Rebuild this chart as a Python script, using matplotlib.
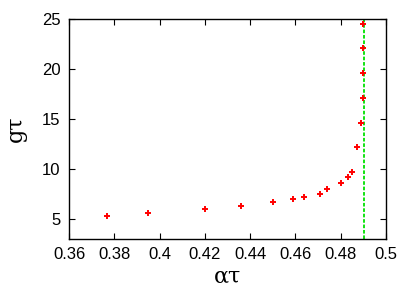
import numpy as np
import matplotlib
matplotlib.use("Agg")
import matplotlib.pyplot as plt

plt.rcParams['font.family'] = ['Liberation Sans', 'DejaVu Sans']

# data
alpha_tau = [0.377, 0.395, 0.420, 0.436, 0.450, 0.459, 0.464, 0.471, 0.474,
             0.480, 0.483, 0.485, 0.487, 0.4888, 0.4898, 0.4900, 0.4900, 0.4900]
g_tau = [5.27, 5.6, 6.0, 6.33, 6.73, 7.0, 7.23, 7.53, 8.03,
         8.63, 9.17, 9.7, 12.2, 14.63, 17.13, 19.6, 22.07, 24.47]
critical = 0.4904

xticks = [0.36, 0.38, 0.4, 0.42, 0.44, 0.46, 0.48, 0.5]
xticklabels = ['0.36', '0.38', '0.4', '0.42', '0.44', '0.46', '0.48', '0.5']
yticks = [5, 10, 15, 20, 25]

fig = plt.figure(figsize=(4.15, 2.91), dpi=100)
ax = fig.add_axes([69 / 415, 1 - 239 / 291, 317 / 415, 220 / 291])

ax.axvline(critical, color='#00e000', linestyle=(0, (2, 1)), linewidth=1.3)
ax.plot(alpha_tau, g_tau, linestyle='none', marker='+', color='red',
        markersize=5, markeredgewidth=1.4)

ax.set_xlim(0.36, 0.5)
ax.set_ylim(3, 25)
ax.set_xticks(xticks)
ax.set_xticklabels(xticklabels)
ax.set_yticks(yticks)
ax.tick_params(direction='in', top=True, right=True, labelsize=12, length=4, pad=6)
for s in ax.spines.values():
    s.set_linewidth(1.0)

ax.set_xlabel('ατ', fontsize=16, family=['DejaVu Serif'], labelpad=2)
ax.set_ylabel('gτ', fontsize=16, family=['DejaVu Serif'], labelpad=11)

fig.savefig('out.png', dpi=100)
